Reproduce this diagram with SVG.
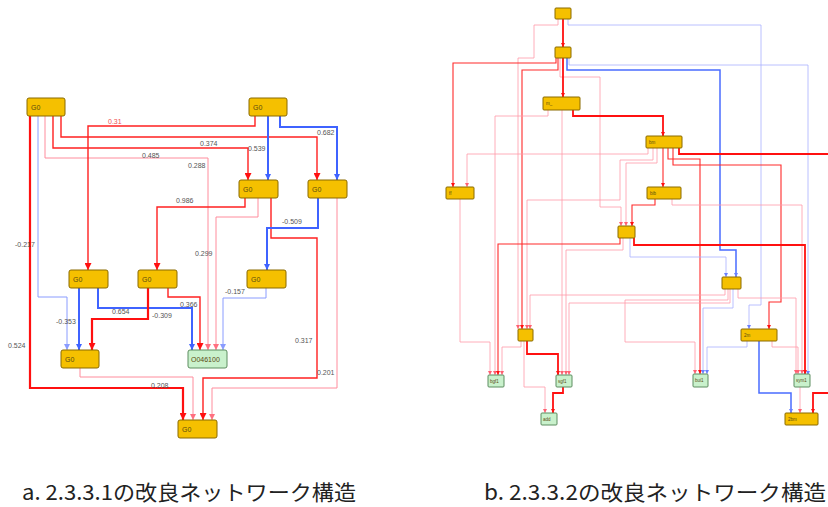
<svg xmlns="http://www.w3.org/2000/svg" width="828" height="507" viewBox="0 0 828 507">
<style>
.bg{fill:#fff}
.ny{fill:#f5c000;stroke:#8a6a00;stroke-width:1}
.ng{fill:#c9f1cc;stroke:#5d8d60;stroke-width:1}
.nt{font-family:"Liberation Sans",Arial,sans-serif;font-size:7px;fill:#5a4a10}
.st{font-family:"Liberation Sans",Arial,sans-serif;font-size:4.5px;fill:#5a4a10}
.lb{font-family:"Liberation Sans",Arial,sans-serif;font-size:7px;fill:#555}
.lr{font-family:"Liberation Sans",Arial,sans-serif;font-size:7px;fill:#f05050}
.cap{font-family:"Noto Sans CJK JP","Noto Sans",sans-serif;font-size:21px;fill:#222}
path{fill:none}
.tr{stroke:#ff1010;stroke-width:2.2}
.r{stroke:#ff2020;stroke-width:1.4}
.p{stroke:#ff8c9c;stroke-width:1}
.b{stroke:#3f63ff;stroke-width:2}
.lbl{stroke:#8a9cff;stroke-width:1}
.tr2{stroke:#ff1010;stroke-width:1.8}
.r2{stroke:#ff2a2a;stroke-width:1.1}
.p2{stroke:#ff9aa8;stroke-width:0.8}
.b2{stroke:#4a6cff;stroke-width:1.5}
.lb2{stroke:#a8b0ff;stroke-width:0.8}
</style>
<defs>
<marker id="mr" viewBox="0 0 10 10" refX="10" refY="5" markerWidth="7" markerHeight="7" markerUnits="userSpaceOnUse" orient="auto"><path d="M0,0 L10,5 L0,10 z" style="fill:#ff1010;stroke:none"/></marker>
<marker id="mp" viewBox="0 0 10 10" refX="10" refY="5" markerWidth="6" markerHeight="6" markerUnits="userSpaceOnUse" orient="auto"><path d="M0,0 L10,5 L0,10 z" style="fill:#ff7080;stroke:none"/></marker>
<marker id="mb" viewBox="0 0 10 10" refX="10" refY="5" markerWidth="6" markerHeight="6" markerUnits="userSpaceOnUse" orient="auto"><path d="M0,0 L10,5 L0,10 z" style="fill:#3f63ff;stroke:none"/></marker>
<marker id="ml" viewBox="0 0 10 10" refX="10" refY="5" markerWidth="6" markerHeight="6" markerUnits="userSpaceOnUse" orient="auto"><path d="M0,0 L10,5 L0,10 z" style="fill:#8a9cff;stroke:none"/></marker>
<marker id="sr" viewBox="0 0 10 10" refX="10" refY="5" markerWidth="4.5" markerHeight="4.5" markerUnits="userSpaceOnUse" orient="auto"><path d="M0,0 L10,5 L0,10 z" style="fill:#ff1010;stroke:none"/></marker>
<marker id="sp" viewBox="0 0 10 10" refX="10" refY="5" markerWidth="4" markerHeight="4" markerUnits="userSpaceOnUse" orient="auto"><path d="M0,0 L10,5 L0,10 z" style="fill:#ff6070;stroke:none"/></marker>
<marker id="sb" viewBox="0 0 10 10" refX="10" refY="5" markerWidth="4" markerHeight="4" markerUnits="userSpaceOnUse" orient="auto"><path d="M0,0 L10,5 L0,10 z" style="fill:#6a80ff;stroke:none"/></marker>
</defs>
<rect class="bg" x="0" y="0" width="828" height="507"/>

<g id="connectors-a">
<path class="tr" d="M30,116 V388 H183 V420" marker-end="url(#mr)"/>
<path class="lbl" d="M38,116 V297 H67 V350" marker-end="url(#ml)"/>
<path class="r" d="M61,116 V137 H317 V180" marker-end="url(#mr)"/>
<path class="r" d="M53,116 V148 H248 V180" marker-end="url(#mr)"/>
<path class="p" d="M45,116 V158 H208 V350" marker-end="url(#mp)"/>
<path class="r" d="M255,116 V126 H88 V270" marker-end="url(#mr)"/>
<path class="b" d="M268,116 V180" marker-end="url(#mb)"/>
<path class="b" d="M280,116 V127 H337 V180" marker-end="url(#mb)"/>
<path class="r" d="M245,198 V207 H157 V270" marker-end="url(#mr)"/>
<path class="p" d="M258,198 V217 H216 V350" marker-end="url(#mp)"/>
<path class="r" d="M271,198 V238 H317 V378 H203 V420" marker-end="url(#mr)"/>
<path class="b" d="M318,198 V228 H267 V270" marker-end="url(#mb)"/>
<path class="p" d="M337,198 V388 H212 V420" marker-end="url(#mp)"/>
<path class="lbl" d="M266,288 V298 H223 V350" marker-end="url(#ml)"/>
<path class="b" d="M79,288 V350" marker-end="url(#mb)"/>
<path class="b" d="M98,288 V308 H192 V350" marker-end="url(#mb)"/>
<path class="tr" d="M148,288 V319 H92 V350" marker-end="url(#mr)"/>
<path class="r" d="M168,288 V297 H200 V350" marker-end="url(#mr)"/>
<path class="p" d="M80,368 V377 H193 V420" marker-end="url(#mp)"/>
</g>
<g id="labels-a">
<text class="lr" x="108" y="124">0.31</text>
<text class="lb" x="200" y="146">0.374</text>
<text class="lb" x="248" y="151">0.539</text>
<text class="lb" x="317" y="135">0.682</text>
<text class="lb" x="142" y="158">0.485</text>
<text class="lb" x="188" y="168">0.288</text>
<text class="lb" x="176" y="203">0.986</text>
<text class="lb" x="282" y="224">-0.509</text>
<text class="lb" x="195" y="256">0.299</text>
<text class="lb" x="15" y="247">-0.217</text>
<text class="lb" x="225" y="294">-0.157</text>
<text class="lb" x="180" y="307">0.366</text>
<text class="lb" x="112" y="314">0.654</text>
<text class="lb" x="152" y="318">-0.309</text>
<text class="lb" x="56" y="324">-0.353</text>
<text class="lb" x="8" y="348">0.524</text>
<text class="lb" x="295" y="343">0.317</text>
<text class="lb" x="317" y="375">0.201</text>
<text class="lb" x="151" y="388">0.208</text>
</g>
<g id="a1"><rect class="ny" x="27" y="98" width="38" height="18" rx="2"/><text class="nt" x="31" y="110">G0</text></g>
<g id="a2"><rect class="ny" x="249" y="98" width="38" height="18" rx="2"/><text class="nt" x="253" y="110">G0</text></g>
<g id="a3"><rect class="ny" x="239" y="180" width="39" height="18" rx="2"/><text class="nt" x="243" y="192">G0</text></g>
<g id="a4"><rect class="ny" x="308" y="180" width="39" height="18" rx="2"/><text class="nt" x="312" y="192">G0</text></g>
<g id="a5"><rect class="ny" x="69" y="270" width="39" height="18" rx="2"/><text class="nt" x="73" y="282">G0</text></g>
<g id="a6"><rect class="ny" x="138" y="270" width="39" height="18" rx="2"/><text class="nt" x="142" y="282">G0</text></g>
<g id="a7"><rect class="ny" x="247" y="270" width="39" height="18" rx="2"/><text class="nt" x="251" y="282">G0</text></g>
<g id="a8"><rect class="ny" x="61" y="350" width="38" height="18" rx="2"/><text class="nt" x="65" y="362">G0</text></g>
<g id="a9"><rect class="ng" x="188" y="350" width="39" height="18" rx="2"/><text class="nt" x="191" y="362">O046100</text></g>
<g id="a10"><rect class="ny" x="178" y="420" width="39" height="18" rx="2"/><text class="nt" x="182" y="432">G0</text></g>

<g id="connectors-b">
<path class="p2" d="M558,19 V25 H534 V58 H518 V329" marker-end="url(#sp)"/>
<path class="lb2" d="M568,19 V25 H761 V305 H749 V329" marker-end="url(#sb)"/>
<path class="r2" d="M556,58 V63 H453 V187" marker-end="url(#sr)"/>
<path class="r2" d="M558,58 V70 H522 V329" marker-end="url(#sr)"/>
<path class="b2" d="M567,58 V70 H720 V250 H736 V277" marker-end="url(#sb)"/>
<path class="lb2" d="M569,58 V65 H808 V375" marker-end="url(#sb)"/>
<path class="p2" d="M560,58 V77 H600 V207 H621 V226" marker-end="url(#sp)"/>
<path class="p2" d="M548,110 V116 H495 V375" marker-end="url(#sp)"/>
<path class="p2" d="M562,110 V375" marker-end="url(#sp)"/>
<path class="p2" d="M648,148 V154 H467 V187" marker-end="url(#sp)"/>
<path class="p2" d="M653,148 V160 H620 V200 H527 V329" marker-end="url(#sp)"/>
<path class="p2" d="M657,148 V163 H626 V226" marker-end="url(#sp)"/>
<path class="r2" d="M663,148 V187" marker-end="url(#sr)"/>
<path class="r2" d="M668,148 V159 H700 V374" marker-end="url(#sr)"/>
<path class="r2" d="M673,148 V165 H781 V302 H769 V329" marker-end="url(#sr)"/>
<path class="tr2" d="M679,148 V154 H828"/>
<path class="r2" d="M655,199 V205 H632 V226" marker-end="url(#sr)"/>
<path class="p2" d="M672,199 V205 H802 V374" marker-end="url(#sp)"/>
<path class="tr2" d="M634,238 V245 H805 V374" marker-end="url(#sr)"/>
<path class="r2" d="M620,238 V244 H498 V375" marker-end="url(#sr)"/>
<path class="p2" d="M623,238 V250 H566 V375" marker-end="url(#sp)"/>
<path class="lb2" d="M630,238 V257 H726 V277" marker-end="url(#sb)"/>
<path class="p2" d="M460,199 V342 H490 V375" marker-end="url(#sp)"/>
<path class="p2" d="M725,289 V295 H530 V329" marker-end="url(#sp)"/>
<path class="p2" d="M728,289 V300 H625 V342 H695 V374" marker-end="url(#sp)"/>
<path class="p2" d="M730,289 V303 H569 V375" marker-end="url(#sp)"/>
<path class="lb2" d="M733,289 V308 H703 V374" marker-end="url(#sb)"/>
<path class="p2" d="M738,289 V298 H796 V374" marker-end="url(#sp)"/>
<path class="lb2" d="M747,341 V347 H707 V374" marker-end="url(#sb)"/>
<path class="p2" d="M772,341 V347 H798 V374" marker-end="url(#sp)"/>
<path class="b2" d="M759,341 V393 H791 V413" marker-end="url(#sb)"/>
<path class="p2" d="M800,387 V413" marker-end="url(#sp)"/>
<path class="tr2" d="M828,393 H813 V413" marker-end="url(#sr)"/>
<path class="p2" d="M521,341 V347 H502 V375" marker-end="url(#sp)"/>
<path class="tr2" d="M527,341 V354 H558 V375" marker-end="url(#sr)"/>
<path class="p2" d="M524,341 V387 H545 V413" marker-end="url(#sp)"/>
<path class="tr2" d="M563,387 V393 H553 V413" marker-end="url(#sr)"/>
<path class="tr2" d="M563,19 V47" marker-end="url(#sr)"/>
<path class="tr2" d="M563,58 V97" marker-end="url(#sr)"/>
<path class="tr2" d="M573,110 V116 H663 V136" marker-end="url(#sr)"/>
</g>
<g id="b1"><rect class="ny" x="555" y="8" width="16" height="11" rx="1"/></g>
<g id="b2"><rect class="ny" x="555" y="47" width="16" height="11" rx="1"/></g>
<g id="b3"><rect class="ny" x="543" y="97" width="37" height="13" rx="1"/><text class="st" x="546" y="105">m_</text></g>
<g id="b4"><rect class="ny" x="646" y="136" width="36" height="12" rx="1"/><text class="st" x="649" y="144">bm</text></g>
<g id="b5"><rect class="ny" x="446" y="187" width="28" height="12" rx="1"/><text class="st" x="449" y="195">ff</text></g>
<g id="b6"><rect class="ny" x="647" y="187" width="34" height="12" rx="1"/><text class="st" x="650" y="195">bib</text></g>
<g id="b7"><rect class="ny" x="618" y="226" width="17" height="12" rx="1"/></g>
<g id="b8"><rect class="ny" x="722" y="277" width="19" height="12" rx="1"/></g>
<g id="b9"><rect class="ny" x="518" y="329" width="15" height="12" rx="1"/></g>
<g id="b10"><rect class="ny" x="741" y="329" width="36" height="12" rx="1"/><text class="st" x="744" y="337">2m</text></g>
<g id="b11"><rect class="ng" x="488" y="375" width="16" height="12" rx="1"/><text class="st" x="490" y="383">bgf1</text></g>
<g id="b12"><rect class="ng" x="556" y="375" width="16" height="12" rx="1"/><text class="st" x="558" y="383">sgf1</text></g>
<g id="b13"><rect class="ng" x="693" y="374" width="15" height="13" rx="1"/><text class="st" x="695" y="382">bui1</text></g>
<g id="b14"><rect class="ng" x="794" y="374" width="16" height="13" rx="1"/><text class="st" x="796" y="382">sym1</text></g>
<g id="b15"><rect class="ng" x="541" y="413" width="16" height="12" rx="1"/><text class="st" x="543" y="421">add</text></g>
<g id="b16"><rect class="ny" x="785" y="413" width="33" height="12" rx="1"/><text class="st" x="788" y="421">2bm</text></g>

<text class="cap" x="22" y="500" textLength="334" lengthAdjust="spacingAndGlyphs">a. 2.3.3.1の改良ネットワーク構造</text>
<text class="cap" x="484" y="500" textLength="342" lengthAdjust="spacingAndGlyphs">b. 2.3.3.2の改良ネットワーク構造</text>
</svg>
